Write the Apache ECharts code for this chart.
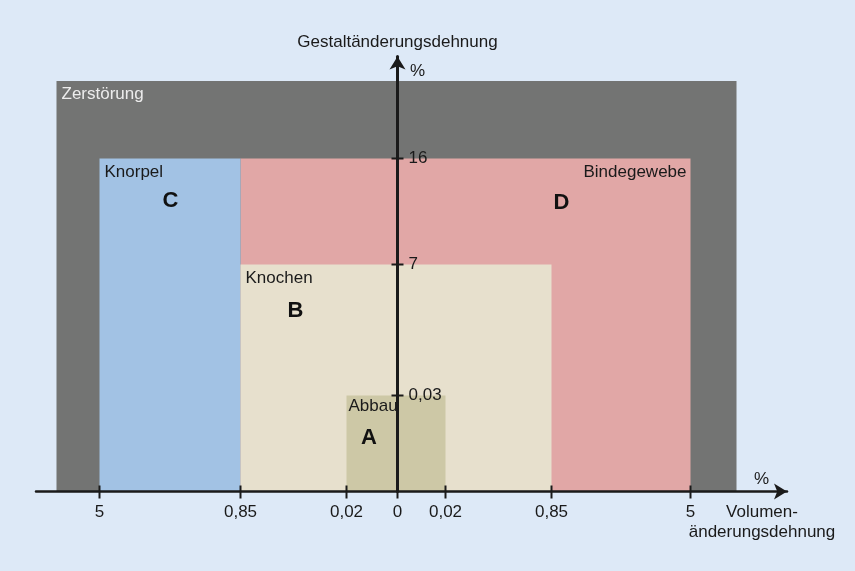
<!DOCTYPE html>
<html><head><meta charset="utf-8">
<script src="https://cdn.jsdelivr.net/npm/echarts@6/dist/echarts.min.js"></script>
<style>html,body{margin:0;padding:0;background:#dde9f7;}#c{width:855px;height:571px;}</style>
</head><body><div id="c"></div>
<script>
// Tick labels (nonlinear schematic axes) and their schematic positions
const xTickLabels = ['5', '0,85', '0,02', '0', '0,02', '0,85', '5'];
const xTickPos = [-298, -157, -51, 0, 48, 154, 293];
const yTickLabels = ['0,03', '7', '16'];
const yTickPos = [96, 227, 333];
// Outer (destruction) zone extent
const outerLeft = -341, outerRight = 339, outerTop = 410.5;
// Regions: name, letter, x-from, x-to, y-top
const regionNames = ['Zerstörung', 'Bindegewebe', 'Knorpel', 'Knochen', 'Abbau'];
const regionLetters = ['', 'D', 'C', 'B', 'A'];
const regionX0 = [outerLeft, xTickPos[1], xTickPos[0], xTickPos[1], xTickPos[2]];
const regionX1 = [outerRight, xTickPos[6], xTickPos[1], xTickPos[5], xTickPos[4]];
const regionTop = [outerTop, yTickPos[2], yTickPos[2], yTickPos[1], yTickPos[0]];
const regionColors = ['#737473', '#e1a7a6', '#a2c2e4', '#e7e0cd', '#cdc8a6'];
const regionLabelColors = ['#ececec', '#1a1a1a', '#1a1a1a', '#1a1a1a', '#1a1a1a'];
const regionLabelAlign = ['left', 'right', 'left', 'left', 'left'];
// Letter anchor positions (schematic)
const letterX = [null, 164, -227, -102, -28.5];
const letterY = [null, 288.5, 290.5, 180.5, 53.5];

const FONT = 'Liberation Sans, Arial, sans-serif';
const chart = echarts.init(document.getElementById('c'), null, {renderer: 'canvas'});

const regionData = regionNames.map((n, i) => [regionX0[i], regionX1[i], regionTop[i], i]);

chart.setOption({
  backgroundColor: '#dde9f7',
  animation: false,
  grid: {left: 36, right: 68, top: 56.5, bottom: 79.5},
  xAxis: {
    type: 'value', min: -361.5, max: 389.5, z: 10,
    splitLine: {show: false},
    axisLine: {show: true, onZero: false, lineStyle: {color: '#1a1a1a', width: 2.5},
      symbol: ['none', 'arrow'], symbolSize: [12, 13]},
    axisTick: {show: false},
    axisLabel: {customValues: xTickPos, margin: 12, color: '#1a1a1a', fontSize: 17, fontFamily: FONT,
      formatter: v => { const i = xTickPos.indexOf(v); return i >= 0 ? xTickLabels[i] : ''; }}
  },
  yAxis: {
    type: 'value', min: 0, max: 435, z: 10,
    splitLine: {show: false},
    axisLine: {show: true, onZero: true, lineStyle: {color: '#1a1a1a', width: 3},
      symbol: ['none', 'arrow'], symbolSize: [12, 13]},
    axisTick: {show: false},
    axisLabel: {show: false},
    name: 'Gestaltänderungsdehnung', nameLocation: 'end', nameGap: 6,
    nameTextStyle: {color: '#1a1a1a', fontSize: 17, fontFamily: FONT, align: 'center', verticalAlign: 'bottom'}
  },
  series: [
    {
      type: 'custom', z: 1, clip: false,
      data: regionData,
      renderItem: (params, api) => {
        const i = api.value(3);
        const p0 = api.coord([api.value(0), api.value(2)]);
        const p1 = api.coord([api.value(1), 0]);
        const children = [{
          type: 'rect',
          shape: {x: p0[0], y: p0[1], width: p1[0] - p0[0], height: p1[1] - p0[1]},
          style: {fill: regionColors[i]}
        }];
        const right = regionLabelAlign[i] === 'right';
        children.push({
          type: 'text', z2: 5,
          style: {text: regionNames[i], x: right ? p1[0] - 4 : p0[0] + (i === 4 ? 2 : 5),
            y: p0[1] + (i === 4 ? 11 : 13.5), align: right ? 'right' : 'left', verticalAlign: 'middle',
            fill: regionLabelColors[i], fontSize: 17, fontFamily: FONT}
        });
        if (regionLetters[i]) {
          const lp = api.coord([letterX[i], letterY[i]]);
          children.push({
            type: 'text', z2: 5,
            style: {text: regionLetters[i], x: lp[0], y: lp[1], align: 'center', verticalAlign: 'middle',
              fill: '#111', fontSize: 22, fontWeight: 'bold', fontFamily: 'Liberation Sans'}
          });
        }
        return {type: 'group', children};
      }
    },
    {
      type: 'custom', z: 12, clip: false,
      data: xTickPos.map(v => [v, 0]),
      renderItem: (params, api) => {
        const p = api.coord([api.value(0), 0]);
        return {type: 'line', shape: {x1: p[0], y1: p[1] - 6, x2: p[0], y2: p[1] + 7},
          style: {stroke: '#1a1a1a', lineWidth: 2}};
      }
    },
    {
      type: 'custom', z: 12, clip: false,
      data: yTickPos.map((v, i) => [0, v, i]),
      renderItem: (params, api) => {
        const p = api.coord([0, api.value(1)]);
        const i = api.value(2);
        return {type: 'group', children: [
          {type: 'line', shape: {x1: p[0] - 6, y1: p[1], x2: p[0] + 6, y2: p[1]},
            style: {stroke: '#1a1a1a', lineWidth: 2}},
          {type: 'text', style: {text: yTickLabels[i], x: p[0] + 11, y: p[1], align: 'left',
            verticalAlign: 'middle', fill: '#1a1a1a', fontSize: 17, fontFamily: FONT}}
        ]};
      }
    }
  ],
  graphic: [
    {type: 'text', left: 410, top: 63, style: {text: '%', fill: '#1a1a1a', fontSize: 17, fontFamily: FONT}},
    {type: 'text', left: 754, top: 471, style: {text: '%', fill: '#1a1a1a', fontSize: 17, fontFamily: FONT}},
    {type: 'text', x: 762, y: 502, style: {text: 'Volumen-\nänderungsdehnung', fill: '#1a1a1a',
      fontSize: 17, fontFamily: FONT, align: 'center', lineHeight: 20}}
  ]
});
</script></body></html>
